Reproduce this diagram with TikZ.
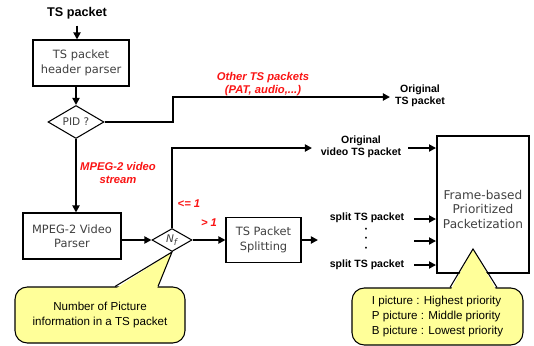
\documentclass[tikz,border=0pt]{standalone}
\usepackage{fontspec}
\setmainfont{DejaVu Sans}
\newfontfamily\arialfont{Liberation Sans}
\usetikzlibrary{arrows.meta,shapes.geometric,calc}
\definecolor{notefill}{RGB}{255,255,153}
\definecolor{redlbl}{RGB}{250,20,20}
\begin{document}
\begin{tikzpicture}[x=0.02cm, y=-0.02cm, >={Triangle[length=4pt,width=4pt]}, line width=1pt,
  procbox/.style={draw, line width=0.6pt, align=center, text=black!75, font=\fontsize{6.5}{8.2}\selectfont},
  bigbox/.style={procbox, line width=1.1pt, font=\fontsize{6.9}{8.3}\selectfont},
  decision/.style={draw, diamond, line width=0.6pt, aspect=1.7, inner sep=0pt, text=black!75},
  outlbl/.style={align=center, inner sep=1pt, font=\arialfont\bfseries\fontsize{6}{7}\selectfont},
  dotmark/.style={inner sep=0pt, text height=2.8pt, text depth=0pt, font=\arialfont\fontsize{4}{4}\selectfont},
  redtxt/.style={align=center, inner sep=1pt, text=redlbl, font=\arialfont\bfseries\itshape\fontsize{6.4}{7}\selectfont},
  note/.style={draw, line width=0.6pt, fill=notefill, rounded corners=7pt, align=center, font=\arialfont\fontsize{6.6}{8.4}\selectfont}]
  \useasboundingbox (0,0) rectangle (534,345);
  % blocks
  \node[font=\arialfont\bfseries\fontsize{7.2}{8}\selectfont] (ts) at (77,13) {TS packet};
  \node[procbox, minimum width=1.92cm, minimum height=0.92cm] (hdr) at (81,63) {TS packet\\header parser};
  \node[decision, minimum width=1.12cm, minimum height=0.66cm, font=\fontsize{6}{7}\selectfont] (pid) at (76,122) {PID ?};
  \node[procbox, minimum width=1.96cm, minimum height=0.92cm] (vpar) at (72,236) {MPEG-2 Video\\Parser};
  \node[decision, minimum width=0.8cm, minimum height=0.46cm, font=\fontsize{6}{7}\selectfont] (nf) at (172,240) {\itshape N\textsubscript{f}};
  \node[procbox, minimum width=1.5cm, minimum height=0.9cm] (split) at (263.5,240) {TS Packet\\Splitting};
  \node[bigbox, minimum width=1.84cm, minimum height=2.74cm] (ppk) at (483,204.5) {\rule{0pt}{10.5pt}Frame-based\\Prioritized\\Packetization};

  % outputs
  \node[outlbl] (orig) at (420,96) {Original\\TS packet};
  \node[outlbl] (origv) at (361,147) {Original\\video TS packet};
  \node[outlbl] (sp1) at (367,218) {split TS packet};
  \node[outlbl] (sp2) at (367,265) {split TS packet};
  \foreach \i/\y in {1/229,2/238.5,3/248}
    \node[dotmark] (dot\i) at (366,\y) {•};

  % red labels
  \node[redtxt] (othr) at (263,84) {Other TS packets\\(PAT, audio,...)};
  \node[redtxt] (strm) at (118,173) {MPEG-2 video\\stream};
  \node[redtxt] (le) at (189,204) {<= 1};
  \node[redtxt] (gt) at (209,223) {> 1};

  % coordinates
  \coordinate (obend) at (173,97);
  \coordinate (otip) at (390,97);
  \coordinate (vtip) at (312,148);
  \coordinate (vout) at (408,148);
  \coordinate (splitend) at (318,240);
  \coordinate (s1) at (414,219);
  \coordinate (s2) at (414,241);
  \coordinate (s3) at (414,265);

  % arrows
  \draw[->] (ts) -- (ts |- hdr.north);
  \draw[->] (pid.north |- hdr.south) -- (pid.north);
  \draw[->] (pid.east) -- (pid.east -| obend) |- (otip);
  \draw[->] (pid.south) -- (pid.south |- vpar.north);
  \draw[->] (vpar.east |- nf) -- (nf.west);
  \draw[->] (nf.north) |- (vtip);
  \draw[->] (vout) -- (vout -| ppk.west);
  \draw[->] (nf.east) -- (split.west);
  \draw[->] (split.east) -- (splitend);
  \draw[->] (s1) -- (s1 -| ppk.west);
  \draw[->] (s2) -- (s2 -| ppk.west);
  \draw[->] (s3) -- (s3 -| ppk.west);

  % callouts
  \node[note, minimum width=3.4cm, minimum height=1.12cm] (n1) at (100,315) {Number of Picture\\information in a TS packet};
  \fill[notefill] ($(n1.north)+(16,2)$) -- (nf.south) -- ($(n1.north)+(57,2)$) -- cycle;
  \draw[line width=0.6pt] ($(n1.north)+(15,0)$) -- (nf.south) -- ($(n1.north)+(58,0)$);
  \node[note, align=left, minimum width=3.42cm, minimum height=1.14cm] (n2) at (437.5,316.5) {I picture : Highest priority\\P picture : Middle priority\\B picture : Lowest priority};
  \coordinate (ptip) at ($(ppk.south)+(-10,-25)$);
  \fill[notefill] ($(n2.north)+(13.5,2)$) -- (ptip) -- ($(n2.north)+(58.5,2)$) -- cycle;
  \draw[line width=0.6pt] ($(n2.north)+(12.5,0)$) -- (ptip) -- ($(n2.north)+(59.5,0)$);
\end{tikzpicture}
\end{document}
